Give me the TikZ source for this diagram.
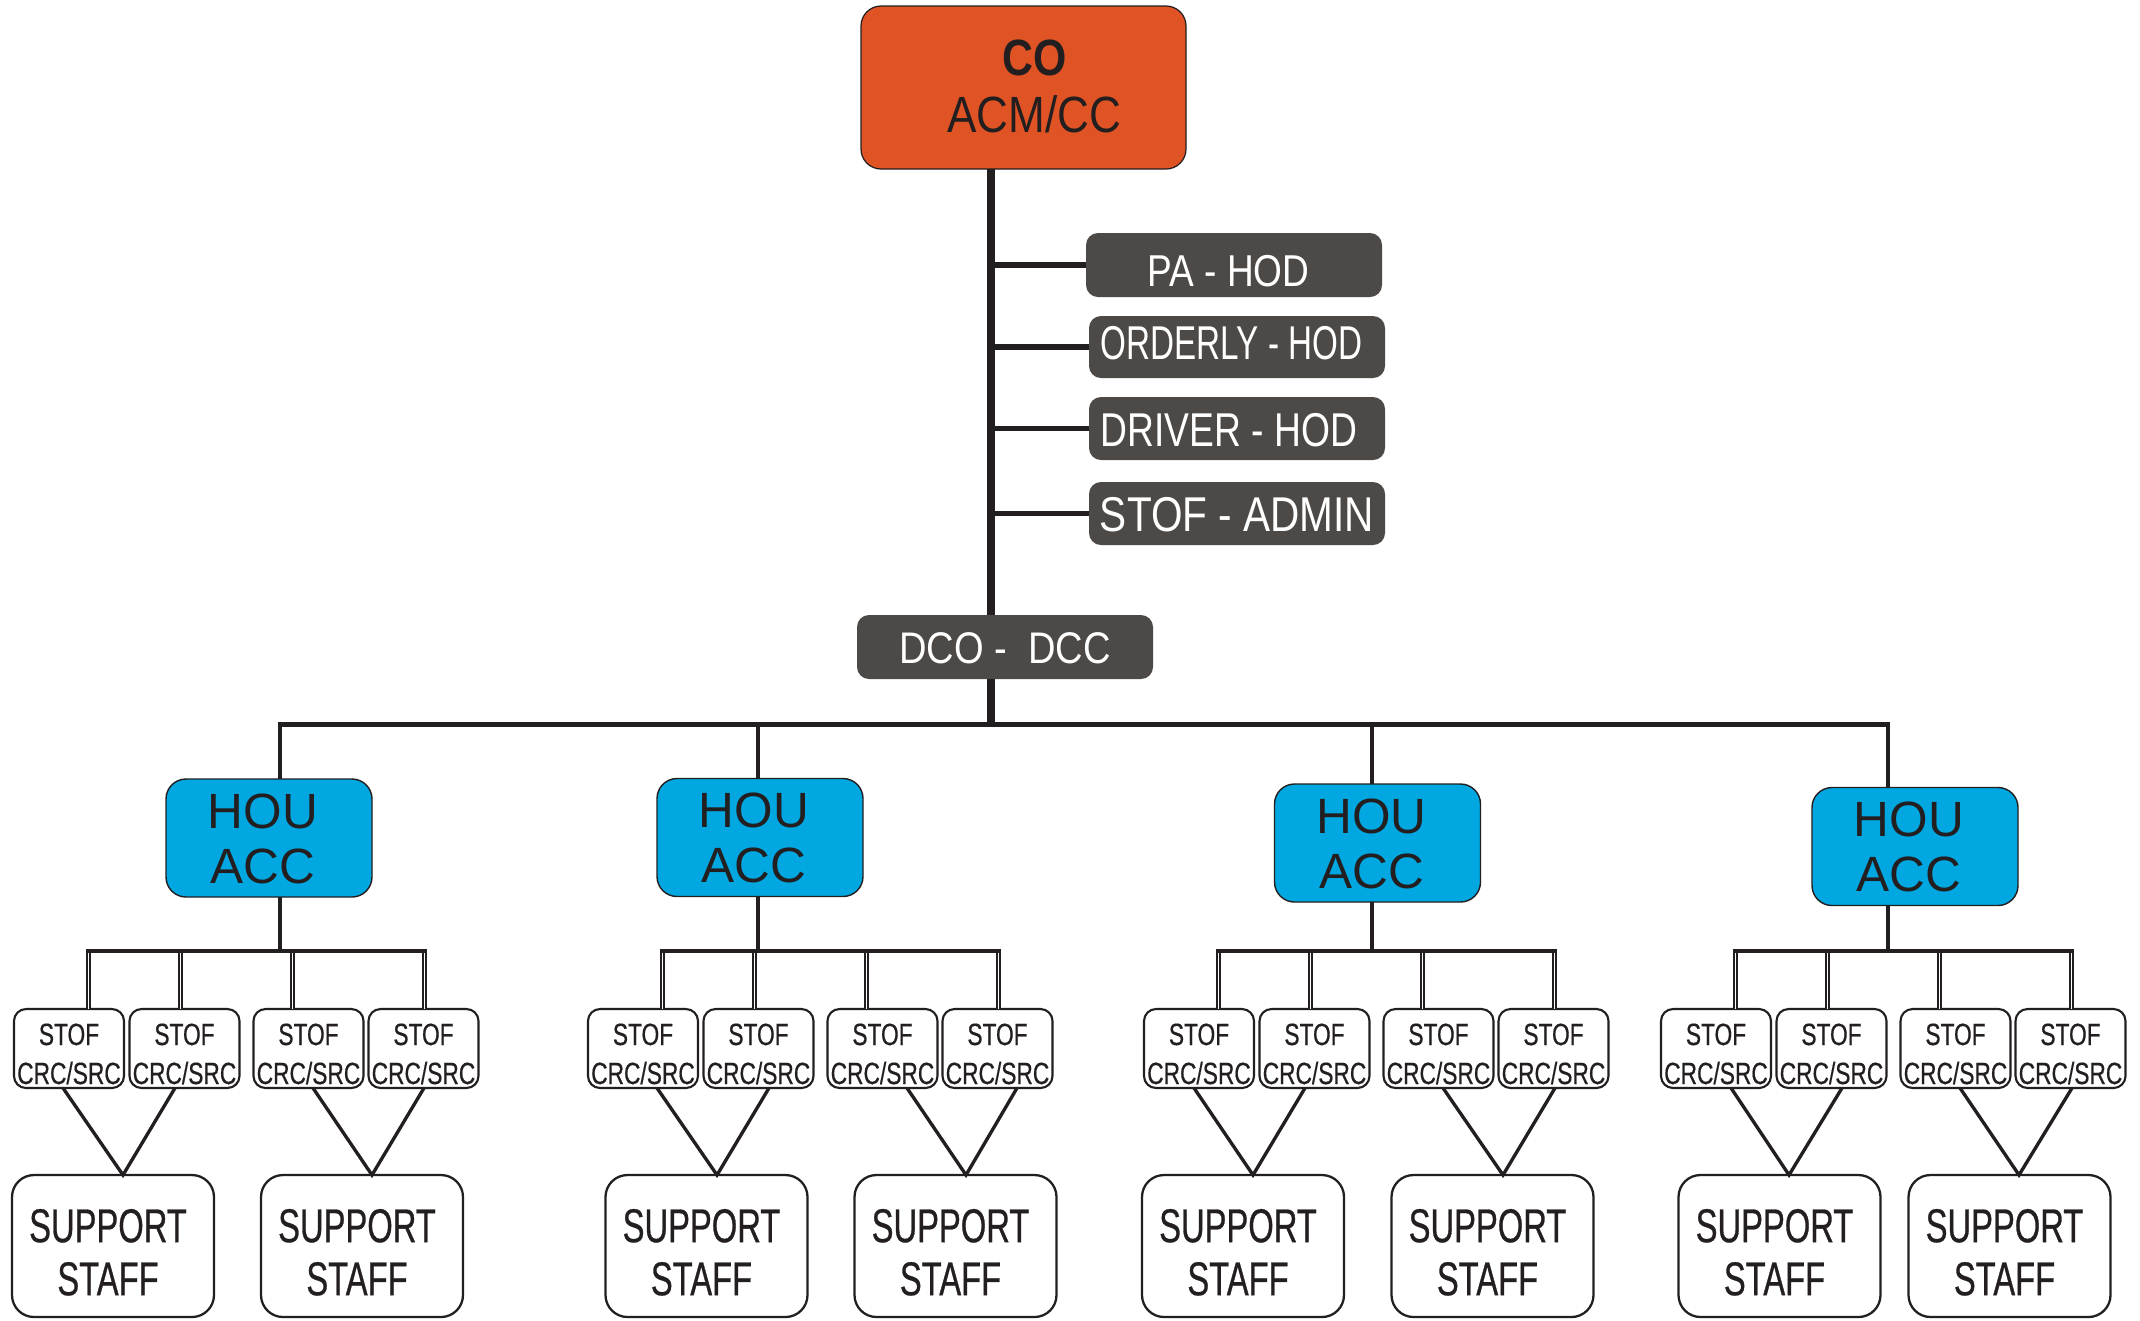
\documentclass[tikz,border=0pt]{standalone}
\usepackage{fontspec}
\setmainfont{Liberation Sans}
\newfontfamily\fco[FakeStretch=0.84]{Liberation Sans}
\newfontfamily\facm[FakeStretch=0.865]{Liberation Sans}
\newfontfamily\fpa[FakeStretch=0.83]{Liberation Sans}
\newfontfamily\ford[FakeStretch=0.70]{Liberation Sans}
\newfontfamily\fdrv[FakeStretch=0.785]{Liberation Sans}
\newfontfamily\fadm[FakeStretch=0.83]{Liberation Sans}
\newfontfamily\fdco[FakeStretch=0.86]{Liberation Sans}
\newfontfamily\fstof[FakeStretch=0.74, FakeBold=0.5]{Liberation Sans}
\newfontfamily\fsup[FakeStretch=0.69, FakeBold=0.6]{Liberation Sans}
\newcommand\twoline[2]{\vtop{\halign{\hfil##\hfil\cr#1\cr#2\cr}}}
\definecolor{orng}{RGB}{224,83,36}
\definecolor{blu}{RGB}{0,167,225}
\definecolor{gry}{RGB}{77,73,70}
\definecolor{lcol}{RGB}{35,31,32}
\tikzset{
  box/.style={rectangle, inner sep=0pt, outer sep=0pt, text=lcol},
  coBox/.style={box, fill=orng, draw=lcol, line width=0.35pt, rounded corners=2mm,
    minimum width=32.5mm, minimum height=16.3mm},
  greyBox/.style={box, fill=gry, text=white, rounded corners=1.2mm, minimum width=29.6mm},
  houBox/.style={box, fill=blu, draw=lcol, line width=0.4pt, rounded corners=2mm,
    minimum width=20.6mm, minimum height=11.8mm,
    font=\fontsize{14.1}{15.65}\selectfont, text height=10.1pt, text depth=15.65pt},
  stofBox/.style={box, draw=lcol, line width=0.6pt, rounded corners=1.2mm,
    minimum width=11mm, minimum height=7.9mm,
    font=\fstof\fontsize{8.74}{11.1}\selectfont, text height=9.1pt, text depth=11.1pt},
  supBox/.style={box, draw=lcol, line width=0.65pt, rounded corners=2.2mm,
    minimum width=20.2mm, minimum height=14.2mm,
    font=\fsup\fontsize{13.5}{15.1}\selectfont, text height=12.9pt, text depth=15.1pt},
  trunk/.style={draw=lcol, line width=2.3pt},
  branch/.style={draw=lcol, line width=1.5pt},
  bus/.style={draw=lcol, line width=1.4pt, line join=miter},
  drop/.style={draw=lcol, line width=1.35pt},
  subbus/.style={draw=lcol, line width=1pt},
  dbl/.style={draw=lcol, line width=0.55pt, double=white, double distance=0.55pt},
  vline/.style={draw=lcol, line width=0.95pt, line join=miter}
}
\begin{document}
\begin{tikzpicture}[x=0.1mm, y=-0.1mm]
\path[use as bounding box, fill=white] (0,0) rectangle (2140,1320);

% top
\node[coBox, font=\fontsize{14.5}{16.2}\selectfont, text height=10.4pt, text depth=17.05pt]
  (co) at (1023.5,87.5) {\twoline{\kern2.2mm{\fco\bfseries CO}}{\kern2.2mm{\facm ACM/CC}}};
\node[greyBox, minimum height=6.4mm, font=\fpa\fontsize{12.7}{15}\selectfont,
  text height=12.5pt, text depth=0pt] (pa) at (1234,265) {PA - HOD\kern1.1mm};
\node[greyBox, minimum height=6.2mm, font=\ford\fontsize{13.5}{16}\selectfont,
  text height=9.67pt, text depth=2.3pt] (ord) at (1237,347) {ORDERLY - HOD\kern1.1mm};
\node[greyBox, minimum height=6.3mm, font=\fdrv\fontsize{13.5}{16}\selectfont,
  text height=10.5pt, text depth=0pt] (drv) at (1237,428.5) {DRIVER - HOD\kern1.6mm};
\node[greyBox, minimum height=6.3mm, font=\fadm\fontsize{13.9}{16}\selectfont,
  text height=10.5pt, text depth=0pt] (adm) at (1237,513.5) {STOF - ADMIN};
\node[greyBox, minimum height=6.4mm, font=\fdco\fontsize{12.6}{15}\selectfont,
  text height=9.3pt, text depth=0pt] (dco) at (1005,647) {DCO -\ \ DCC};

\coordinate (tk) at (991,724.5);
\foreach \n in {pa,ord,drv,adm} \draw[branch] (\n.west -| tk) -- (\n.west);
\draw[trunk] (co.south -| tk) -- (dco.north -| tk);
\draw[trunk] (dco.south -| tk) -- (tk);

% HOU level
\node[houBox] (hou1) at (269,838) {\twoline{HOU\kern1.2mm}{ACC\kern1.2mm}};
\node[houBox] (hou2) at (760,837.5) {\twoline{HOU\kern1.2mm}{ACC\kern1.2mm}};
\node[houBox] (hou3) at (1377.5,843) {\twoline{HOU\kern1.2mm}{ACC\kern1.2mm}};
\node[houBox] (hou4) at (1915,846.5) {\twoline{HOU\kern1.2mm}{ACC\kern1.2mm}};

\coordinate (d1) at (280,724.5);
\coordinate (d2) at (758,724.5);
\coordinate (d3) at (1372,724.5);
\coordinate (d4) at (1888,724.5);
\draw[bus] (hou1.north -| d1) -- (d1) -- (d4) -- (hou4.north -| d4);
\draw[drop] (d2) -- (hou2.north -| d2);
\draw[drop] (d3) -- (hou3.north -| d3);

% groups
\foreach \g/\S/\dx/\sa/\sb/\la/\aa/\ra/\lb/\ab/\rb in {
  1/14/280/113/362/63/123/175/313/372/424,
  2/588/758/706.5/955.5/657/717/769/907/966/1017,
  3/1144/1372/1243/1492.5/1194/1253/1305/1443/1503/1555,
  4/1661/1888/1779.5/2009.5/1731/1789/1842/1960/2019/2072}
{
  \node[stofBox] (s\g1) at (\S+55,1048.5) {\twoline{STOF}{CRC/SRC}};
  \node[stofBox] (s\g2) at (\S+170.5,1048.5) {\twoline{STOF}{CRC/SRC}};
  \node[stofBox] (s\g3) at (\S+294.5,1048.5) {\twoline{STOF}{CRC/SRC}};
  \node[stofBox] (s\g4) at (\S+409.5,1048.5) {\twoline{STOF}{CRC/SRC}};
  \node[supBox] (p\g1) at (\sa,1246) {\twoline{SUPPORT\kern1mm}{STAFF\kern1mm}};
  \node[supBox] (p\g2) at (\sb,1246) {\twoline{SUPPORT\kern1mm}{STAFF\kern1mm}};
  \coordinate (j\g) at (\dx,951);
  \draw[drop] (hou\g.south -| j\g) -- (j\g);
  \coordinate (t\g1) at (\S+74.5,951);
  \coordinate (t\g2) at (\S+166.5,951);
  \coordinate (t\g3) at (\S+278.5,951);
  \coordinate (t\g4) at (\S+410.5,951);
  \foreach \k in {1,2,3,4} \draw[dbl] (t\g\k) -- (s\g\k.north -| t\g\k);
  \draw[subbus] ([xshift=-0.8pt]t\g1) -- ([xshift=0.8pt]t\g4);
  \path (\la,0) coordinate (la) (\aa,0) coordinate (aa) (\ra,0) coordinate (ra)
        (\lb,0) coordinate (lb) (\ab,0) coordinate (ab) (\rb,0) coordinate (rb);
  \draw[vline] (s\g1.south -| la) -- (p\g1.north -| aa) -- (s\g2.south -| ra);
  \draw[vline] (s\g3.south -| lb) -- (p\g2.north -| ab) -- (s\g4.south -| rb);
}
\end{tikzpicture}
\end{document}
